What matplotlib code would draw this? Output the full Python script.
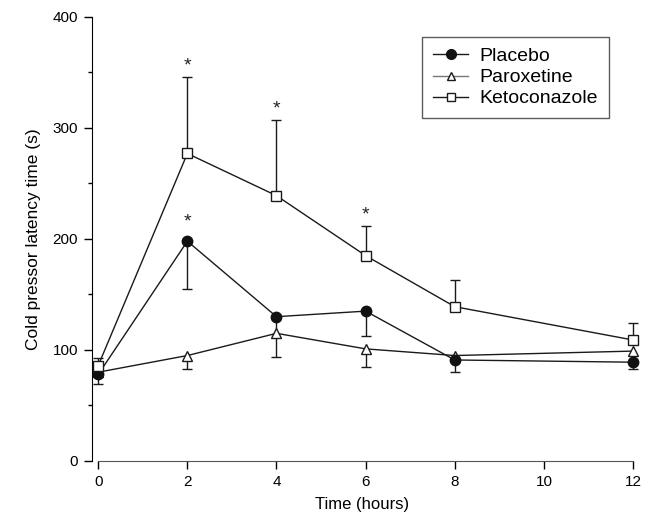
import matplotlib
matplotlib.use("Agg")
import matplotlib.pyplot as plt
from matplotlib.lines import Line2D
from matplotlib.ticker import MultipleLocator

plt.rcParams["font.family"] = ["Liberation Sans", "DejaVu Sans"]

hours = [0, 2, 4, 6, 8, 12]

placebo = [78, 198, 130, 135, 91, 89]
placebo_err = [9, 43, 36, 22, 11, 6]

paroxetine = [80, 95, 115, 101, 95, 99]
paroxetine_err = [0, 12, 0, 16, 0, 0]

ketoconazole = [86, 277, 239, 185, 139, 109]
ketoconazole_err = [7, 69, 68, 27, 24, 15]

star_x = [2, 4, 6, 2]
star_y = [356, 317, 222, 215]

fig = plt.figure(figsize=(6.46, 5.28), dpi=100)
ax = fig.add_axes([0.1424, 0.1269, 0.8375, 0.841])

line_col = "#1a1a1a"


def one_sided_err(x, y, err, sign, z):
    # stem from the mean to one end, cap only at the far end
    pts = [(xi, v, v + sign * e) for xi, v, e in zip(x, y, err) if e > 0]
    xs = [p[0] for p in pts]
    ax.vlines(xs, [p[1] for p in pts], [p[2] for p in pts], color=line_col,
              lw=1, zorder=z, clip_on=False)
    ax.plot(xs, [p[2] for p in pts], ls="none", marker="_", ms=7, mew=1,
            color=line_col, zorder=z, clip_on=False)


one_sided_err(hours, paroxetine, paroxetine_err, -1, 2)
one_sided_err(hours, placebo, placebo_err, -1, 2)
one_sided_err(hours, ketoconazole, ketoconazole_err, 1, 2)

ax.plot(hours, paroxetine, color=line_col, lw=1, marker="^", ms=7,
        mfc="white", mec=line_col, mew=1, zorder=3, clip_on=False)
ax.plot(hours, placebo, color=line_col, lw=1, marker="o", ms=7.5,
        mfc="#111111", mec="#111111", zorder=3, clip_on=False)
ax.plot(hours, ketoconazole, color=line_col, lw=1, marker="s", ms=6.5,
        mfc="white", mec=line_col, mew=1, zorder=4, clip_on=False)

for x, y in zip(star_x, star_y):
    ax.text(x, y, "*", ha="center", va="center", fontsize=14, color="#222222")

ax.set_xlim(-0.14, 12)
ax.set_ylim(0, 400)
ax.set_xticks([0, 2, 4, 6, 8, 10, 12])
ax.set_yticks([0, 100, 200, 300, 400])
ax.yaxis.set_minor_locator(MultipleLocator(50))
ax.tick_params(axis="both", which="major", direction="out", length=6,
               width=1, labelsize=11, pad=4)
ax.tick_params(axis="y", which="minor", direction="out", length=3, width=1)

for side in ["top", "right"]:
    ax.spines[side].set_visible(False)
ax.spines["bottom"].set_bounds(0, 12)
ax.spines["left"].set_bounds(0, 400)
ax.spines["bottom"].set_color("#555555")

ax.set_xlabel("Time (hours)", fontsize=12, labelpad=6)
ax.set_ylabel("Cold pressor latency time (s)", fontsize=12.5, labelpad=8)

handles = [
    Line2D([], [], color=line_col, lw=1, marker="o", ms=7, mfc="#111111",
           mec="#111111"),
    Line2D([], [], color="#777777", lw=1, marker="^", ms=6, mfc="white",
           mec=line_col),
    Line2D([], [], color=line_col, lw=1, marker="s", ms=6, mfc="white",
           mec=line_col),
]
labels = ["Placebo", "Paroxetine", "Ketoconazole"]
leg = ax.legend(handles, labels, loc="upper right",
                bbox_to_anchor=(0.9556, 0.955), borderaxespad=0,
                fontsize=14, frameon=True, fancybox=False, handlelength=1.8,
                handletextpad=0.6, borderpad=0.55, labelspacing=0.18)
leg.get_frame().set_edgecolor("#333333")
leg.get_frame().set_linewidth(1)

fig.savefig("out.png", dpi=100)
